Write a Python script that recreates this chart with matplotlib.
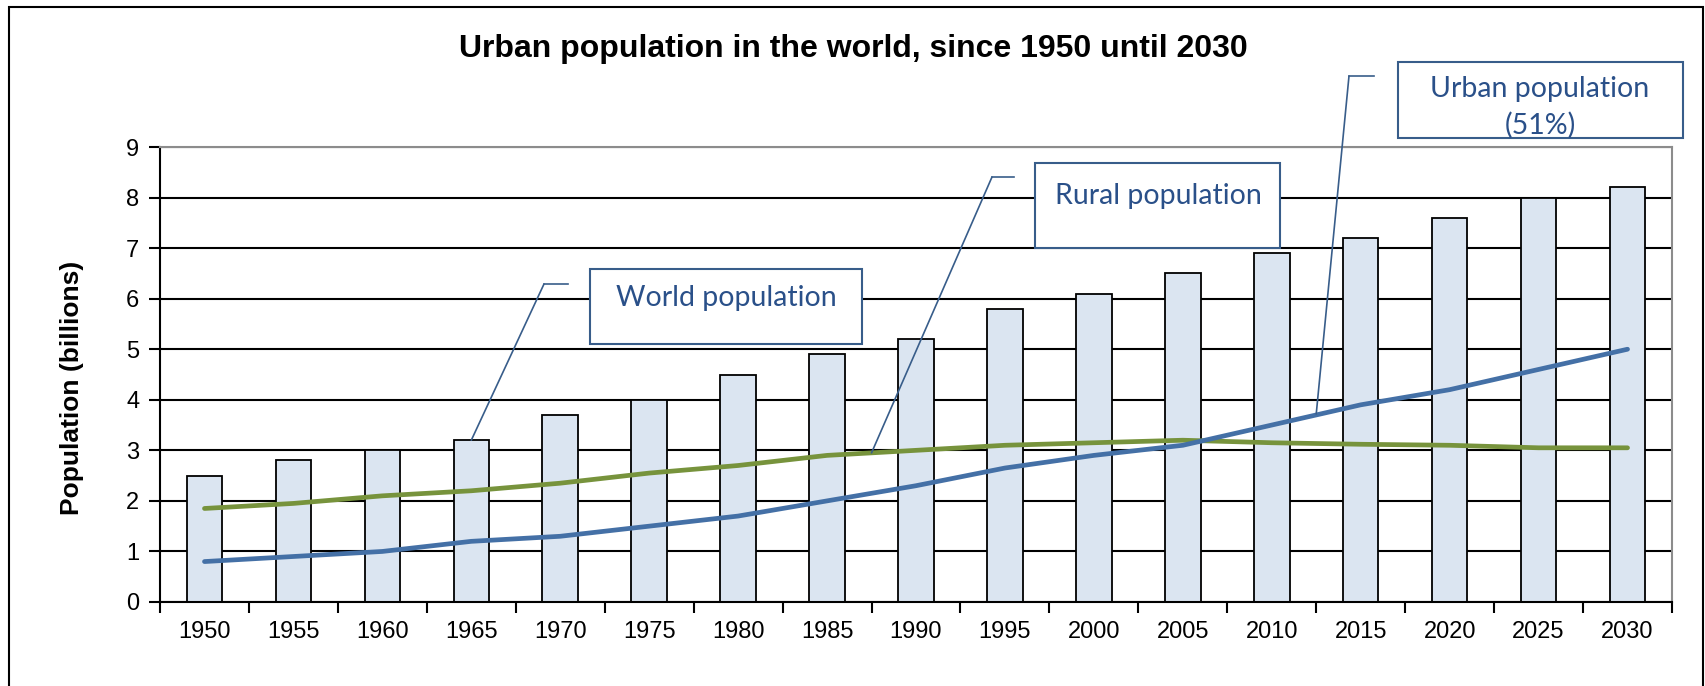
import matplotlib
matplotlib.use("Agg")
import matplotlib.pyplot as plt
from matplotlib.patches import Rectangle
from matplotlib.lines import Line2D

plt.rcParams['font.family'] = ['Liberation Sans', 'DejaVu Sans']

years = ['1950', '1955', '1960', '1965', '1970', '1975', '1980', '1985', '1990',
         '1995', '2000', '2005', '2010', '2015', '2020', '2025', '2030']
world = [2.5, 2.8, 3.0, 3.2, 3.7, 4.0, 4.5, 4.9, 5.2, 5.8, 6.1, 6.5, 6.9, 7.2, 7.6, 8.0, 8.2]
urban = [0.8, 0.9, 1.0, 1.2, 1.3, 1.5, 1.7, 2.0, 2.3, 2.65, 2.9, 3.1, 3.5, 3.9, 4.2, 4.6, 5.0]
rural = [1.85, 1.95, 2.1, 2.2, 2.35, 2.55, 2.7, 2.9, 3.0, 3.1, 3.15, 3.2, 3.15, 3.12, 3.1, 3.05, 3.05]

W, H = 1706, 686
fig = plt.figure(figsize=(W / 100, H / 100), dpi=100)
ax = fig.add_axes([160 / W, 1 - 602 / H, (1672 - 160) / W, (602 - 147) / H])

x = list(range(len(years)))
ax.bar(x, world, width=0.4, color='#DBE5F1', edgecolor='black', linewidth=1.3, zorder=1)
ax.plot(x, rural, color='#77933C', lw=3.4, zorder=2, solid_capstyle='round')
ax.plot(x, urban, color='#4470A6', lw=3.4, zorder=3, solid_capstyle='round')

ax.set_xlim(-0.5, len(years) - 0.5)
ax.set_ylim(0, 9)
ax.set_yticks(range(10))
ax.set_axisbelow(True)
ax.yaxis.grid(True, color='black', lw=1.5)

# category labels in the middle, ticks on the boundaries
ax.set_xticks([i - 0.5 for i in range(len(years) + 1)])
ax.set_xticklabels([])
ax.set_xticks(x, minor=True)
ax.set_xticklabels(years, minor=True)
ax.tick_params(axis='x', which='major', length=8, width=1.5, direction='out')
ax.tick_params(axis='x', which='minor', length=0, pad=14, labelsize=17)
ax.tick_params(axis='y', length=8, width=1.5, pad=7, labelsize=17)

for s in ['top', 'right']:
    ax.spines[s].set_color('#8C8C8C')
    ax.spines[s].set_linewidth(1.5)
for s in ['left', 'bottom']:
    ax.spines[s].set_linewidth(1.5)

fig.text(0.5, 1 - 49 / H, 'Urban population in the world, since 1950 until 2030',
         ha='center', va='center', fontsize=23, fontweight='bold')
fig.text(72 / W, 1 - 388 / H, 'Population (billions)', rotation=90,
         ha='center', va='center', fontsize=19, fontweight='bold')

# outer frame
fig.add_artist(Rectangle((9 / W, -0.05), (1703 - 9) / W, 1.05 - 7 / H,
                         transform=fig.transFigure, fill=False, ec='black', lw=1.5))

box_c = '#385D8A'
txt_c = '#2A5089'
afont = ['Lato', 'DejaVu Sans']


def callout(x0, y0, x1, y1, lines, target, stub):
    fig.add_artist(Rectangle((x0 / W, 1 - y1 / H), (x1 - x0) / W, (y1 - y0) / H,
                             transform=fig.transFigure, fc='white', ec=box_c, lw=1.5, zorder=5))
    for tx, ty, s in lines:
        fig.text(tx / W, 1 - ty / H, s, ha='center', va='center', fontsize=20.5,
                 color=txt_c, family=afont, zorder=6)
    sx0, sx1, sy = stub
    fig.add_artist(Line2D([sx0 / W, sx1 / W], [1 - sy / H, 1 - sy / H],
                          transform=fig.transFigure, color=box_c, lw=1.2))
    ax.annotate('', xy=target, xycoords='data', xytext=(sx0 / W, 1 - sy / H),
                textcoords='figure fraction',
                arrowprops=dict(arrowstyle='-', color=box_c, lw=1.2, shrinkA=0, shrinkB=0))


callout(590, 269, 862, 344, [(726, 298, 'World population')], (3, world[3]), (544, 568, 284))
callout(1035, 163, 1280, 248, [(1158, 196, 'Rural population')], (7.5, 2.95), (992, 1014, 177))
callout(1398, 62, 1683, 138, [(1540, 89, 'Urban population'), (1540, 125, '(51%)')],
        (12.5, 3.72), (1349, 1374, 76))

fig.savefig('out.png', dpi=100)
